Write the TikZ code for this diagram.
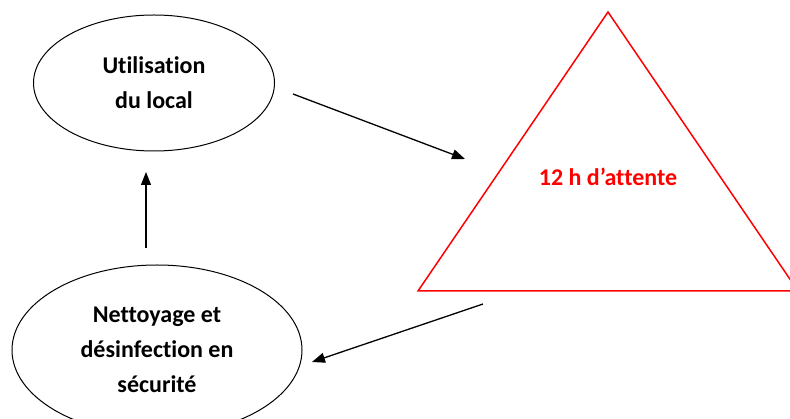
\documentclass[tikz,border=0pt]{standalone}
\usepackage{fontspec}
\setmainfont{Carlito}[Ligatures={NoCommon,NoRequired,NoContextual,NoRare}]
\usetikzlibrary{shapes.geometric,arrows.meta}

\begin{document}
\begin{tikzpicture}[x=1pt,y=-1pt,
		etape/.style={draw,ellipse,line width=1pt,inner sep=0pt,align=center,font=\fontsize{24}{35}\selectfont\bfseries},
		fleche/.style={line width=1.3pt,-{Triangle[length=13pt,width=10pt]}}]
		\clip (0,0) rectangle (790,419);
		\node[etape,minimum width=241pt,minimum height=136pt] (util) at (154,83) {Utilisation\\du local};
		\node[etape,minimum width=290pt,minimum height=170pt] (nettoyage) at (157,350) {Nettoyage et\\désinfection en\\sécurité};
		
		\coordinate (haut) at (608,12);
		\coordinate (gauche) at (418,291);
		\coordinate (droite) at (798,291);
		\draw[red,line width=1.5pt] (haut) -- (gauche) -- (droite) -- cycle;
		\node[text=red,font=\fontsize{24}{35}\selectfont\bfseries] (attente) at (608,177) {12 h d’attente};
		
		\coordinate (d1) at (293,94);
		\coordinate (f1) at (465,159);
		\coordinate (d2) at (483,304);
		\coordinate (f2) at (312,362);
		\coordinate (d3) at (146,248);
		\coordinate (f3) at (146,172);
		\draw[fleche] (d1) -- (f1);
		\draw[fleche] (d2) -- (f2);
		\draw[fleche] (d3) -- (f3);
		\end{tikzpicture}
\end{document}
